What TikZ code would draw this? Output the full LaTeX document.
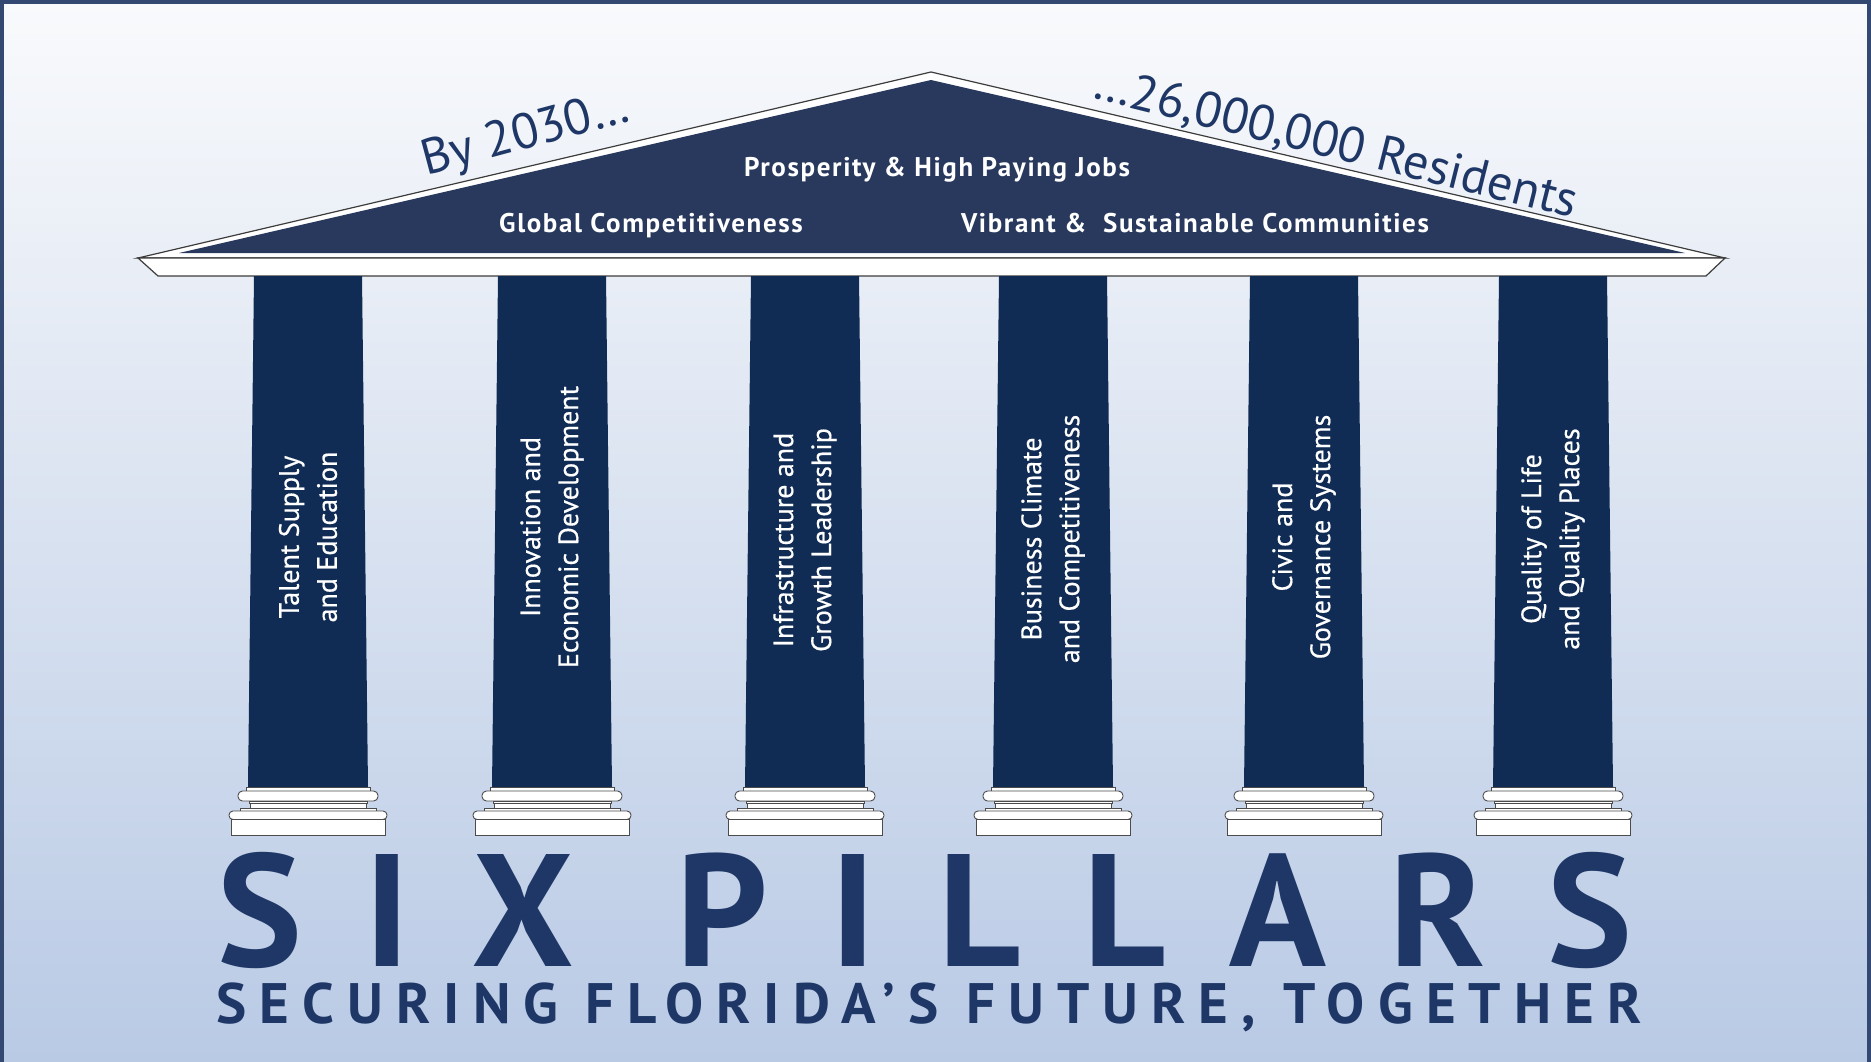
\documentclass[tikz,border=0pt]{standalone}
\usepackage{fontspec}
\setmainfont{PT Sans}
\newfontfamily\titlefont{PT Sans}[LetterSpace=39]
\newfontfamily\subfont{PT Sans}[LetterSpace=23]
\newfontfamily\rooffont{PT Sans}[LetterSpace=6]
\newfontfamily\pillarfont{PT Sans}[FakeBold=0.5]
\definecolor{bordercol}{RGB}{52,73,113}
\definecolor{bgtop}{RGB}{249,250,252}
\definecolor{bgmid}{RGB}{228,233,243}
\definecolor{bgbot}{RGB}{185,202,229}
\definecolor{roofcol}{RGB}{40,57,93}
\definecolor{pillarcol}{RGB}{16,44,84}
\definecolor{navytext}{RGB}{30,55,102}
\definecolor{edgecol}{RGB}{60,60,60}
\tikzset{
  roofline/.style={draw=edgecol, line width=1.2pt, line join=miter},
  basepart/.style={draw=gray!60!black, fill=white, line width=0.9pt},
  pillartext/.style={text=white, font=\pillarfont\fontsize{28}{38}\selectfont, align=center, rotate=90},
  rooftext/.style={text=white, font=\rooffont\bfseries\fontsize{27}{32}\selectfont, anchor=base},
  slogan/.style={text=navytext, font=\fontsize{50}{58}\selectfont, anchor=base},
  titletext/.style={text=navytext, font=\titlefont\bfseries\fontsize{160}{170}\selectfont, anchor=base},
  subtext/.style={text=navytext, font=\subfont\bfseries\fontsize{57}{64}\selectfont, anchor=base}
}
\begin{document}
\begin{tikzpicture}[x=1pt,y=-1pt]
\useasboundingbox (0,0) rectangle (1871,1062);
\shade[top color=bgtop, middle color=bgmid, bottom color=bgbot] (0,0) rectangle (1871,1062);
\fill[bordercol] (0,0) rectangle (1871,4);
\fill[bordercol] (0,0) rectangle (4,1062);
\fill[bordercol] (1867,0) rectangle (1871,1062);

% roof
\draw[roofline, fill=white] (138,258) -- (931,72) -- (1725,258) -- cycle;
\fill[roofcol] (179,253) -- (931,80) -- (1685,253) -- cycle;
\draw[roofline, fill=white] (138,258) -- (1725,258) -- (1706,276) -- (158,276) -- cycle;

% pillars
\foreach \cx in {308,552,805,1053,1304,1553}{
  \fill[pillarcol] (\cx-54,276) -- (\cx+54,276) -- (\cx+60,787.5) -- (\cx-60,787.5) -- cycle;
  \draw[basepart] (\cx-62,787) rectangle (\cx+62,791);
  \draw[basepart, rounded corners=4.5pt] (\cx-70,791) rectangle (\cx+70,801);
  \draw[basepart] (\cx-59,801) rectangle (\cx+59,803);
  \draw[basepart] (\cx-58,803) rectangle (\cx+58,808);
  \draw[basepart] (\cx-68,808) rectangle (\cx+68,811);
  \draw[basepart, rounded corners=4pt] (\cx-79,811) rectangle (\cx+79,819.5);
  \draw[basepart] (\cx-77,819.5) rectangle (\cx+77,835);
}

% pillar labels
\node[pillartext] (t1) at (308,537) {Talent Supply\\and Education};
\node[pillartext] (t2) at (552,527) {Innovation and\\Economic Development};
\node[pillartext] (t3) at (805,540) {Infrastructure and\\Growth Leadership};
\node[pillartext] (t4) at (1053,539) {Business Climate\\and Competitiveness};
\node[pillartext] (t5) at (1304,537) {Civic and\\Governance Systems};
\node[pillartext] (t6) at (1553,539) {Quality of Life\\and Quality Places};

% roof labels
\node[rooftext] (r1) at (937,176) {Prosperity \& High Paying Jobs};
\node[rooftext] (r2) at (651,232) {Global Competitiveness};
\node[rooftext] (r3) at (1195,232) {Vibrant \&~ Sustainable Communities};

% slogans
\node[slogan, rotate=15] (s1) at (529,148) {By 2030…};
\node[slogan, rotate=-14] (s2) at (1332,158) {…26,000,000 Residents};

% title
\node[titletext] (title) at (925,966) {SIX PILLARS};
\node[subtext] (sub) at (929,1023) {SECURING FLORIDA’S FUTURE, TOGETHER};
\end{tikzpicture}
\end{document}
